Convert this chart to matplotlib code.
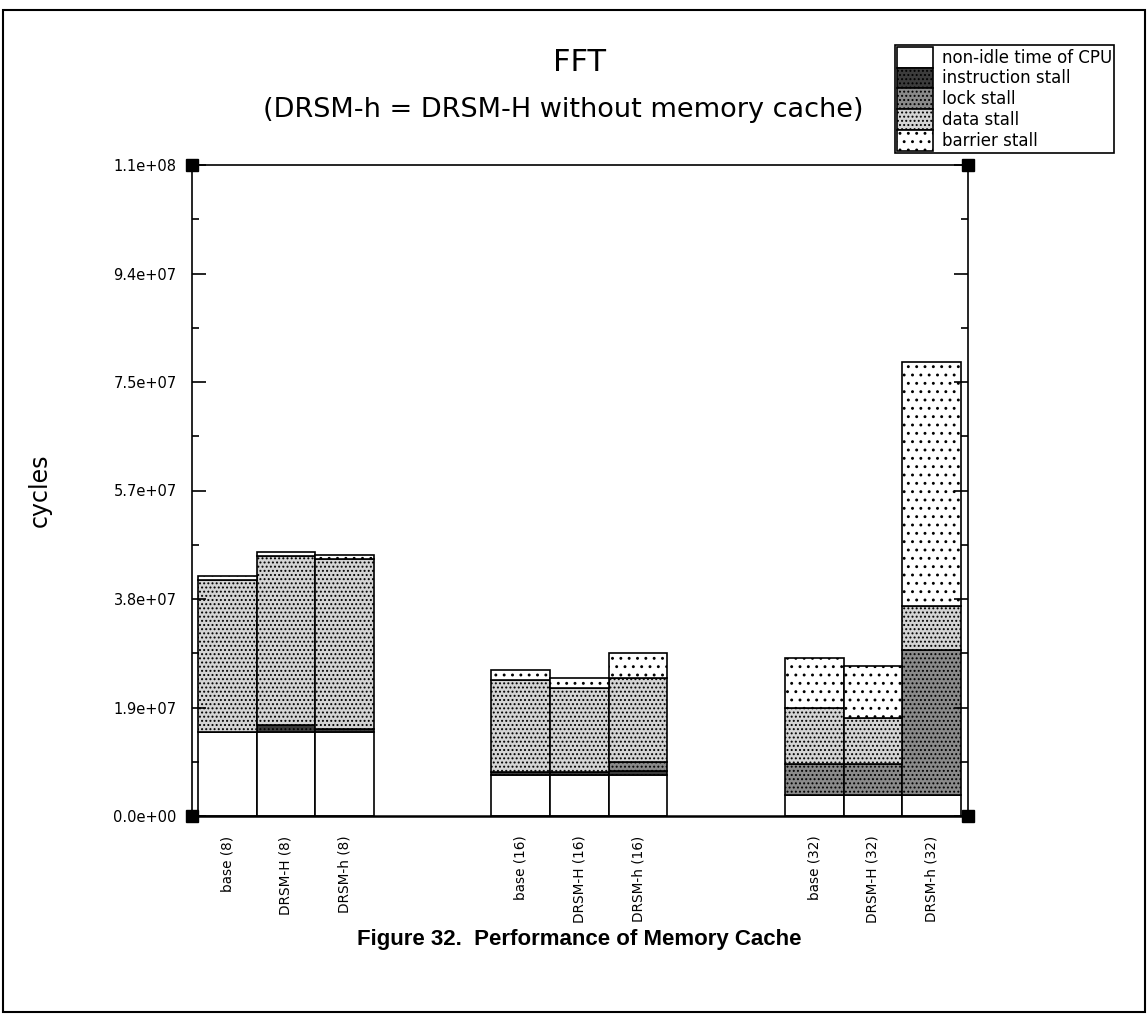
import numpy as np
import matplotlib
matplotlib.use('Agg')
import matplotlib.pyplot as plt
from matplotlib.patches import Rectangle
from matplotlib.ticker import FormatStrFormatter, MultipleLocator

# bar labels, three groups of three
labels = ['base (8)', 'DRSM-H (8)', 'DRSM-h (8)',
          'base (16)', 'DRSM-H (16)', 'DRSM-h (16)',
          'base (32)', 'DRSM-H (32)', 'DRSM-h (32)']
group_of_bar = [0, 0, 0, 1, 1, 1, 2, 2, 2]

# stacked components (cycles)
nonidle = [1.46e7, 1.46e7, 1.46e7, 7.1e6, 7.1e6, 7.1e6, 3.6e6, 3.6e6, 3.6e6]
instr = [0, 1.2e6, 5.2e5, 5.2e5, 5.2e5, 6.9e5, 0, 0, 0]
lock = [0, 0, 0, 0, 0, 1.56e6, 5.4e6, 5.4e6, 2.53e7]
data = [2.64e7, 2.93e7, 2.95e7, 1.60e7, 1.47e7, 1.46e7, 9.7e6, 8.0e6, 7.5e6]
barrier = [6.9e5, 6.9e5, 6.9e5, 1.74e6, 1.74e6, 4.3e6, 8.7e6, 9.0e6, 4.25e7]

series_names = ['non-idle time of CPU', 'instruction stall', 'lock stall',
                'data stall', 'barrier stall']

ymax = 1.131e8

plt.rcParams['hatch.linewidth'] = 0.9
plt.rcParams['font.family'] = ['DejaVu Sans']

fig = plt.figure(figsize=(11.48, 10.15), dpi=100)
ax = fig.add_axes([192 / 1148, 1 - 816 / 1015, 776 / 1148, 651 / 1015])

# positions: 5 slots per group, bars in first three
x = np.array([g * 5 + i % 3 for i, g in enumerate(group_of_bar)], dtype=float)

# (facecolor, hatch) per series
styles = [('white', None),
          ('#3c3c3c', '....'),
          ('#8a8a8a', '....'),
          ('#d4d4d4', '....'),
          ('white', '..')]

bottom = np.zeros(len(labels))
handles = []
for vals, name, (fc, h) in zip([nonidle, instr, lock, data, barrier], series_names, styles):
    vals = np.array(vals)
    bars = ax.bar(x, vals, width=1.0, bottom=bottom, color=fc, hatch=h,
                  edgecolor='black', linewidth=1.2, label=name)
    handles.append(bars)
    bottom = bottom + vals

ax.set_xlim(-0.6, 12.62)
ax.set_ylim(0, ymax)

ax.set_xticks(x)
ax.set_xticklabels(labels, rotation=90, fontsize=9.8, va='top', ha='center')
ax.tick_params(axis='x', length=0, pad=14)

ax.yaxis.set_major_locator(MultipleLocator(ymax / 6))
ax.yaxis.set_minor_locator(MultipleLocator(ymax / 12))
ax.yaxis.set_major_formatter(FormatStrFormatter('%.1e'))
ax.tick_params(axis='y', which='major', direction='in', length=10, width=1.2,
               left=True, right=True, labelsize=10.5, pad=11)
ax.tick_params(axis='y', which='minor', direction='in', length=5, width=1.2,
               left=True, right=True)
for s in ax.spines.values():
    s.set_linewidth(1.2)
ax.spines['bottom'].set_linewidth(1.8)

ax.set_ylabel('cycles', fontsize=17, labelpad=44)

# black squares at axes corners
ax.plot([0, 1, 0, 1], [0, 0, 1, 1], 's', color='black', markersize=9,
        transform=ax.transAxes, clip_on=False, zorder=5)

fig.text(0.505, 1 - 62 / 1015, 'FFT', fontsize=22, ha='center', va='center')
fig.text(563 / 1148, 1 - 110 / 1015, '(DRSM-h = DRSM-H without memory cache)',
         fontsize=19.5, ha='center', va='center')
fig.text(0.505, 1 - 940 / 1015, 'Figure 32.  Performance of Memory Cache',
         fontsize=16, fontweight='bold', family='Liberation Sans',
         ha='center', va='center')

leg = fig.legend(handles=handles, loc='upper left',
                 bbox_to_anchor=(895 / 1148, 1 - 45 / 1015),
                 fontsize=12, frameon=True, fancybox=False, edgecolor='black',
                 framealpha=1, borderpad=0.1, labelspacing=0.0,
                 handlelength=2.2, handleheight=1.55, handletextpad=0.5,
                 borderaxespad=0)
leg.get_frame().set_linewidth(1.2)

# outer frame around the whole figure
fig.patches.append(Rectangle((3 / 1148, 3 / 1015), 1142 / 1148, 1002 / 1015,
                             transform=fig.transFigure, fill=False,
                             edgecolor='black', linewidth=1.5))

fig.savefig('out.png', dpi=100)
